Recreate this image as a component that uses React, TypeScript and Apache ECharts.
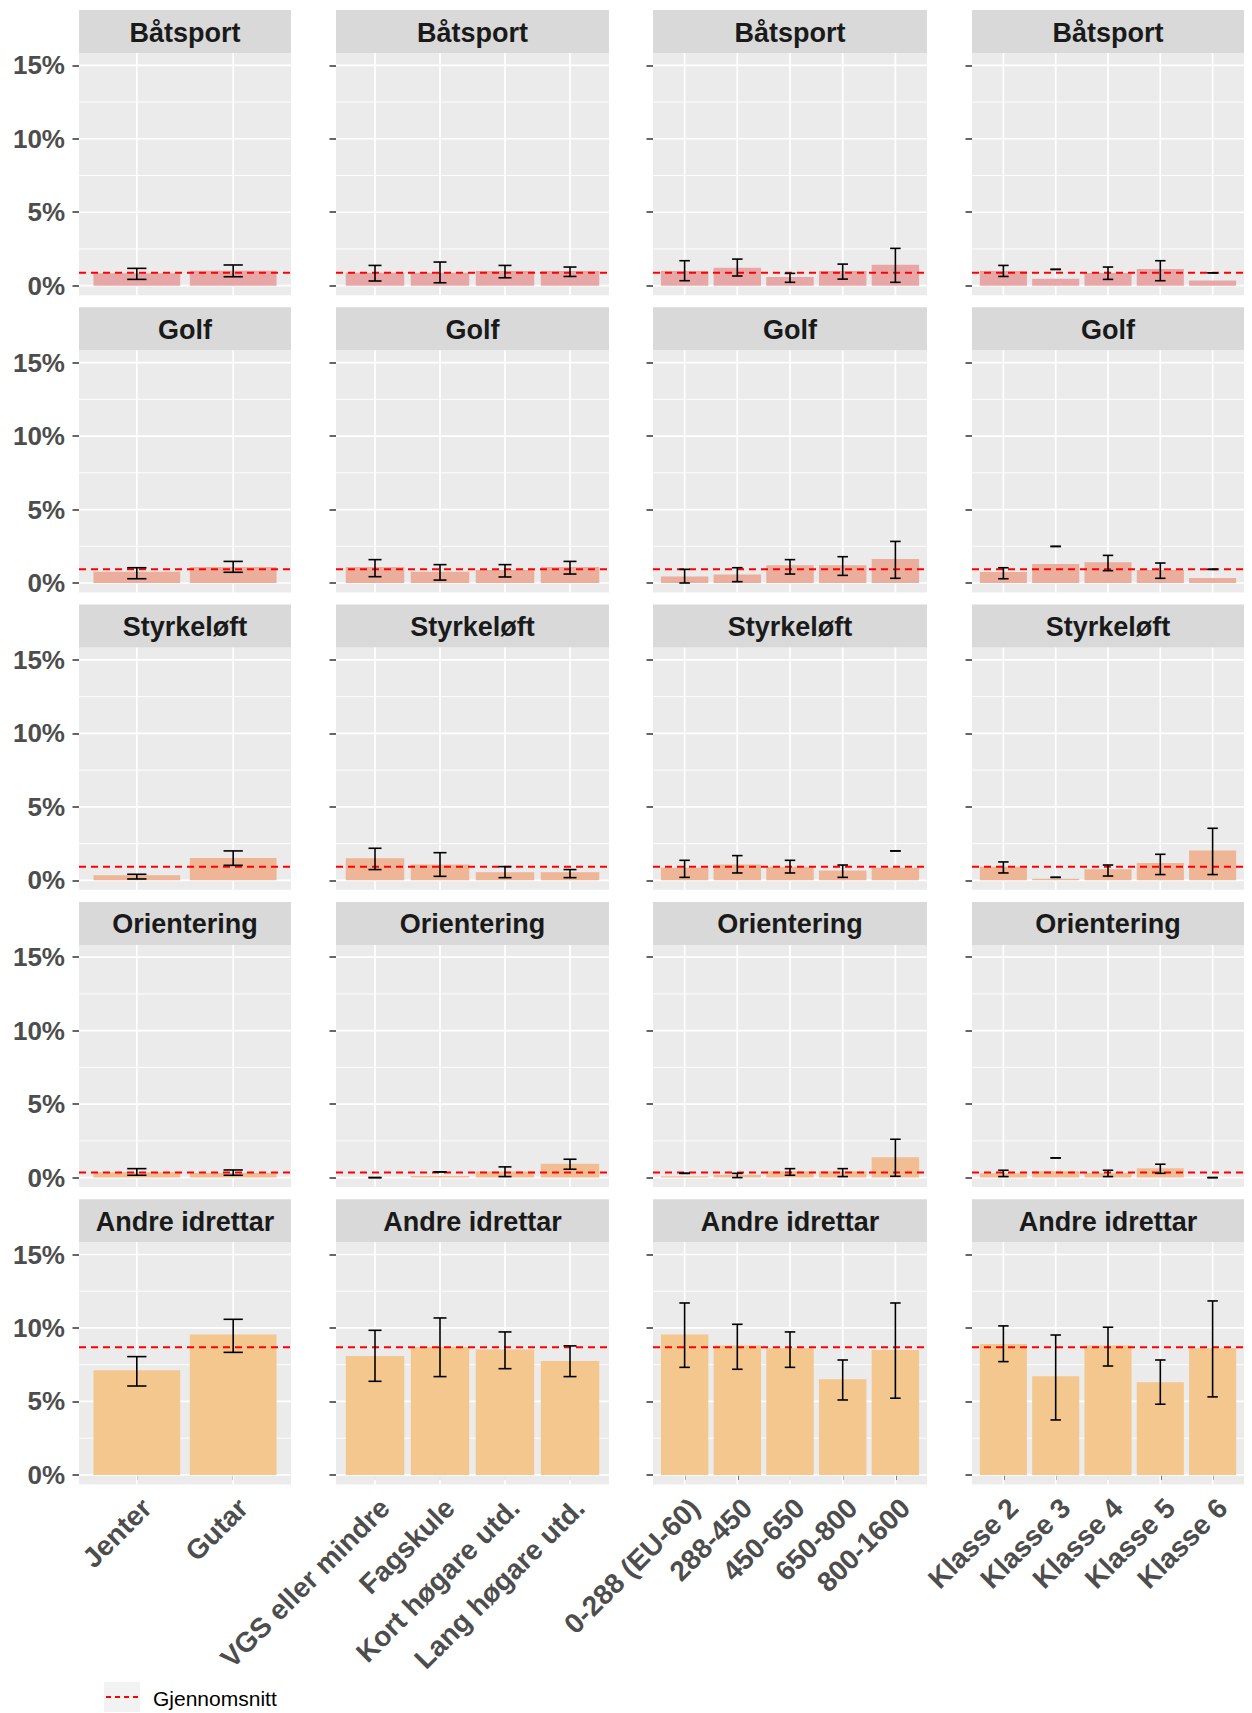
import React, { useEffect, useRef } from 'react';
import * as echarts from 'echarts';

// ---------- DATA ----------
const sports = ['Båtsport', 'Golf', 'Styrkeløft', 'Orientering', 'Andre idrettar'];
const catsKjonn = ['Jenter', 'Gutar'];
const catsUtd = ['VGS eller mindre', 'Fagskule', 'Kort høgare utd.', 'Lang høgare utd.'];
const catsInntekt = ['0-288 (EU-60)', '288-450', '450-650', '650-800', '800-1600'];
const catsKlasse = ['Klasse 2', 'Klasse 3', 'Klasse 4', 'Klasse 5', 'Klasse 6'];
const yMajor = [0, 5, 10, 15];
const yMinor = [2.5, 7.5, 12.5];
const meanBySport = [0.88, 0.93, 0.93, 0.35, 8.68];

// values per column group: [kjønn, utdanning, inntekt, klasse]
const baatVal = [[0.84, 1.02], [0.88, 0.88, 1.0, 1.0], [1.0, 1.22, 0.59, 1.0, 1.43], [1.0, 0.48, 0.86, 1.13, 0.36]];
const baatLo = [[0.43, 0.61], [0.32, 0.2, 0.54, 0.63], [0.34, 0.66, 0.23, 0.45, 0.23], [0.63, 1.11, 0.43, 0.34, 0.88]];
const baatHi = [[1.18, 1.41], [1.38, 1.61, 1.38, 1.27], [1.7, 1.81, 0.84, 1.47, 2.54], [1.38, 1.11, 1.27, 1.7, 0.88]];

const golfVal = [[0.77, 1.09], [1.09, 0.77, 0.88, 1.09], [0.45, 0.57, 1.2, 1.2, 1.63], [0.75, 1.29, 1.41, 0.88, 0.34]];
const golfLo = [[0.29, 0.73], [0.43, 0.2, 0.41, 0.61], [0.0, 0.09, 0.61, 0.52, 0.32], [0.29, 2.49, 0.84, 0.32, 0.93]];
const golfHi = [[1.04, 1.47], [1.59, 1.25, 1.25, 1.47], [0.93, 1.04, 1.59, 1.79, 2.83], [1.04, 2.49, 1.88, 1.36, 0.93]];

const styrVal = [[0.34, 1.52], [1.5, 1.07, 0.54, 0.54], [0.86, 1.07, 0.93, 0.66, 0.86], [0.93, 0.11, 0.75, 1.18, 2.02]];
const styrLo = [[0.09, 1.02], [0.73, 0.27, 0.18, 0.18], [0.2, 0.5, 0.5, 0.2, 2.0], [0.5, 0.2, 0.29, 0.39, 0.39]];
const styrHi = [[0.41, 2.0], [2.18, 1.88, 0.93, 0.73], [1.36, 1.68, 1.36, 1.04, 2.0], [1.25, 0.2, 1.04, 1.77, 3.54]];

const oriVal = [[0.36, 0.32], [0, 0.11, 0.41, 0.95], [0.09, 0.2, 0.43, 0.43, 1.38], [0.29, 0.43, 0.32, 0.63, 0]];
const oriLo = [[0.16, 0.16], [0, 0.39, 0.07, 0.57], [0.29, 0, 0.16, 0.07, 0.09], [0.07, 1.34, 0.07, 0.29, 0]];
const oriHi = [[0.61, 0.52], [0, 0.39, 0.73, 1.25], [0.29, 0.29, 0.61, 0.61, 2.61], [0.5, 1.34, 0.5, 0.91, 0]];

const andreVal = [[7.12, 9.55], [8.1, 8.71, 8.53, 7.76], [9.55, 8.8, 8.62, 6.51, 8.5], [8.91, 6.71, 8.8, 6.3, 8.62]];
const andreLo = [[6.05, 8.34], [6.37, 6.69, 7.23, 6.69], [7.32, 7.19, 7.32, 5.1, 5.22], [7.71, 3.74, 7.41, 4.81, 5.31]];
const andreHi = [[8.05, 10.59], [9.84, 10.68, 9.73, 8.78], [11.7, 10.25, 9.73, 7.82, 11.7], [10.14, 9.52, 10.05, 7.82, 11.84]];

const legendLabel = 'Gjennomsnitt';

// ---------- STYLE / LAYOUT ----------
const groups = [catsKjonn, catsUtd, catsInntekt, catsKlasse];
const allVals = [baatVal, golfVal, styrVal, oriVal, andreVal];
const allLo = [baatLo, golfLo, styrLo, oriLo, andreLo];
const allHi = [baatHi, golfHi, styrHi, oriHi, andreHi];
const barColors = ['#E8A7A7', '#EBAD9C', '#EEB596', '#F1BE93', '#F4C78F'];

const FONT = '"Liberation Sans", Arial, Helvetica, sans-serif';
const COL_LEFT = [79, 336, 653, 972];
const COL_RIGHT = [291, 609, 927, 1244];
const ROW_TOP0 = 10;
const ROW_PITCH = 297.3;
const STRIP_H = 43;
const TOP_PAD = 12.3;
const PLOT_H = 220.4;
const BOTTOM_PAD = 9.5;
const DISCRETE_EXPAND = 0.1; // extra units beyond half a band on each side (ggplot 0.6 total)

function buildOption() {
  const grid: any[] = [];
  const xAxis: any[] = [];
  const yAxis: any[] = [];
  const series: any[] = [];
  const graphic: any[] = [];
  let idx = 0;
  for (let r = 0; r < sports.length; r++) {
    for (let c = 0; c < groups.length; c++) {
      const cats = groups[c];
      const n = cats.length;
      const left = COL_LEFT[c];
      const width = COL_RIGHT[c] - COL_LEFT[c];
      const unit = width / (n + 2 * DISCRETE_EXPAND);
      const ext = unit * DISCRETE_EXPAND;
      const stripTop = ROW_TOP0 + r * ROW_PITCH;
      const gridTop = stripTop + STRIP_H + TOP_PAD;
      grid.push({ left: left + ext, top: gridTop, width: n * unit, height: PLOT_H, show: false });

      graphic.push({
        type: 'rect', z: -10, silent: true,
        shape: { x: left, y: stripTop + STRIP_H, width, height: TOP_PAD + PLOT_H + BOTTOM_PAD },
        style: { fill: '#EBEBEB' },
      });
      graphic.push({
        type: 'rect', z: -10, silent: true,
        shape: { x: left, y: stripTop, width, height: STRIP_H },
        style: { fill: '#D9D9D9' },
      });
      graphic.push({
        type: 'text', z: 10, silent: true,
        x: left + width / 2, y: stripTop + STRIP_H / 2 + 1,
        style: {
          text: sports[r], fill: '#1A1A1A', font: `bold 27px ${FONT}`,
          align: 'center', verticalAlign: 'middle', textAlign: 'center', textVerticalAlign: 'middle',
        },
      });

      const bottom = r === sports.length - 1;
      xAxis.push({
        type: 'category', gridIndex: idx, data: cats, offset: BOTTOM_PAD,
        axisLine: { show: false },
        axisTick: { show: bottom, alignWithLabel: true, length: 5, lineStyle: { color: '#333333', width: 1.5 } },
        axisLabel: {
          show: bottom, rotate: 45, interval: 0, margin: 9,
          align: 'right', verticalAlign: 'top',
          fontSize: 28, fontWeight: 'bold', color: '#4D4D4D', fontFamily: FONT,
        },
        splitLine: { show: false },
      });
      yAxis.push({
        type: 'value', gridIndex: idx, min: yMajor[0], max: yMajor[yMajor.length - 1], interval: 5,
        offset: ext,
        axisLine: { show: false },
        axisTick: { show: true, length: 6.5, lineStyle: { color: '#333333', width: 1.5 } },
        axisLabel: {
          show: c === 0, margin: 14, formatter: '{value}%',
          fontSize: 26, fontWeight: 'bold', color: '#4D4D4D', fontFamily: FONT,
        },
        splitLine: { show: false },
      });

      // horizontal gridlines (major + minor) across the full panel
      series.push({
        type: 'custom', xAxisIndex: idx, yAxisIndex: idx, z: 1, silent: true,
        data: [...yMinor.map((v) => [0, v, 0]), ...yMajor.map((v) => [0, v, 1])],
        encode: { x: 0, y: 1 },
        renderItem: (params: any, api: any) => {
          const y = api.coord([0, api.value(1)])[1];
          const cs = params.coordSys;
          return {
            type: 'line',
            shape: { x1: cs.x - ext, y1: y, x2: cs.x + cs.width + ext, y2: y },
            style: { stroke: '#FFFFFF', lineWidth: api.value(2) ? 1.7 : 0.9 },
          };
        },
      });

      // vertical gridlines at category centres
      series.push({
        type: 'custom', xAxisIndex: idx, yAxisIndex: idx, z: 1, silent: true,
        data: cats.map((_, i) => [i, 0]),
        encode: { x: 0, y: 1 },
        renderItem: (params: any, api: any) => {
          const x = api.coord([api.value(0), 0])[0];
          const cs = params.coordSys;
          return {
            type: 'line',
            shape: { x1: x, y1: cs.y - TOP_PAD, x2: x, y2: cs.y + cs.height + BOTTOM_PAD },
            style: { stroke: '#FFFFFF', lineWidth: 1.7 },
          };
        },
      });

      // bars
      series.push({
        type: 'bar', xAxisIndex: idx, yAxisIndex: idx, z: 2, silent: true,
        data: allVals[r][c],
        barCategoryGap: '10%',
        itemStyle: { color: barColors[r] },
      });

      // mean (Gjennomsnitt) dashed line across the full panel
      series.push({
        type: 'custom', xAxisIndex: idx, yAxisIndex: idx, z: 5, silent: true,
        data: [[0, meanBySport[r]]],
        encode: { x: 0, y: 1 },
        renderItem: (params: any, api: any) => {
          const y = api.coord([0, api.value(1)])[1];
          const cs = params.coordSys;
          return {
            type: 'line',
            shape: { x1: cs.x - ext, y1: y, x2: cs.x + cs.width + ext, y2: y },
            style: { stroke: '#FF0000', lineWidth: 2, lineDash: [7, 5] },
          };
        },
      });

      // error bars
      const lo = allLo[r][c];
      const hi = allHi[r][c];
      series.push({
        type: 'custom', xAxisIndex: idx, yAxisIndex: idx, z: 6, silent: true,
        data: cats.map((_, i) => [i, lo[i], hi[i]]),
        encode: { x: 0, y: [1, 2] },
        renderItem: (params: any, api: any) => {
          const xi = api.value(0);
          const pLo = api.coord([xi, api.value(1)]);
          const pHi = api.coord([xi, api.value(2)]);
          const bw = api.size([1, 0])[0];
          const half = bw * 0.1;
          const st = { stroke: '#000000', lineWidth: 1.6 };
          return {
            type: 'group',
            children: [
              { type: 'line', shape: { x1: pLo[0], y1: pLo[1], x2: pHi[0], y2: pHi[1] }, style: st },
              { type: 'line', shape: { x1: pLo[0] - half, y1: pLo[1], x2: pLo[0] + half, y2: pLo[1] }, style: st },
              { type: 'line', shape: { x1: pHi[0] - half, y1: pHi[1], x2: pHi[0] + half, y2: pHi[1] }, style: st },
            ],
          };
        },
      });
      idx++;
    }
  }

  // legend
  graphic.push({
    type: 'rect', z: 0, silent: true,
    shape: { x: 104, y: 1682, width: 36, height: 30 },
    style: { fill: '#F2F2F2' },
  });
  graphic.push({
    type: 'line', z: 1, silent: true,
    shape: { x1: 106, y1: 1697, x2: 138, y2: 1697 },
    style: { stroke: '#FF0000', lineWidth: 1.8, lineDash: [5, 4] },
  });
  graphic.push({
    type: 'text', z: 1, silent: true, x: 153, y: 1698,
    style: {
      text: legendLabel, fill: '#000000', font: `21px ${FONT}`,
      align: 'left', verticalAlign: 'middle', textAlign: 'left', textVerticalAlign: 'middle',
    },
  });

  return { animation: false, backgroundColor: '#FFFFFF', grid, xAxis, yAxis, series, graphic };
}

export default function App() {
  const ref = useRef<HTMLDivElement>(null);
  useEffect(() => {
    if (!ref.current) return;
    const chart = echarts.init(ref.current, undefined, { renderer: 'svg' });
    chart.setOption(buildOption() as any);
    return () => chart.dispose();
  }, []);
  return (
    <div
      ref={ref}
      style={{ position: 'absolute', left: 0, top: 0, width: 1252, height: 1713, background: '#FFFFFF' }}
    />
  );
}
